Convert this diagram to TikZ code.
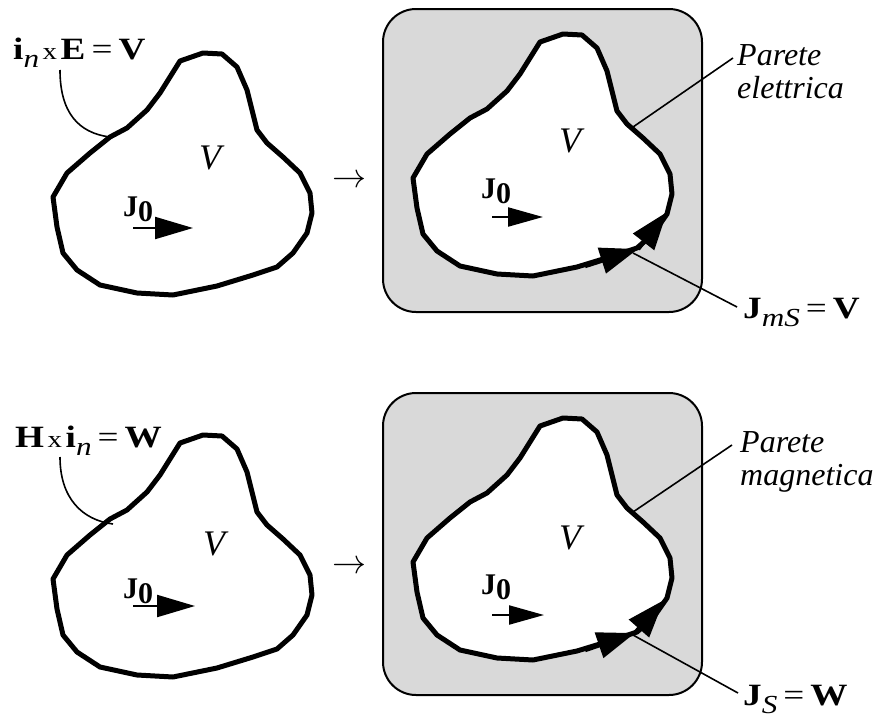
\documentclass[tikz,border=0pt]{standalone}
\usepackage{fontspec}
\setmainfont{Liberation Serif}
\usetikzlibrary{arrows.meta}

\newcommand{\subs}[1]{\raisebox{-8pt}{\fontsize{26}{26}\selectfont #1}}
\newcommand{\smallx}{\hspace{3pt}{\fontsize{24}{24}\selectfont x}\hspace{3pt}}
\newcommand{\eqsign}{\hspace{5pt}=\hspace{5pt}}
\newcommand{\wide}[1]{\scalebox{1.2}[1]{#1}}
\newcommand{\drawblob}[1]{\draw[blob,#1] (180,61) -- (203,53) -- (222,54) -- (237,67) -- (247,90) -- (257,130) -- (267,143) -- (283,157) -- (300,173) -- (310,193) -- (312,213) -- (307,233) -- (293,253) -- (277,267) -- (253,275) -- (217,286) -- (173,295) -- (137,293) -- (100,285) -- (77,270) -- (63,253) -- (57,227) -- (53,197) -- (67,173) -- (90,153) -- (110,137) -- (127,128) -- (147,110) -- (160,93) -- cycle;}

\begin{document}
\begin{tikzpicture}[x=1pt,y=-1pt]
	\tikzstyle{every node}=[inner sep=0pt]
	\tikzstyle{blob}=[line width=5pt,line join=round]
	\tikzstyle{wall}=[draw=black,line width=2pt,fill=gray!30,rounded corners=33pt]
	\tikzstyle{lbl}=[anchor=base west,font=\fontsize{31}{31}\selectfont]
	\tikzstyle{vol}=[font=\fontsize{36}{36}\selectfont\itshape]
	\tikzstyle{jzero}=[font=\fontsize{30}{30}\selectfont\bfseries]
	\tikzstyle{wallname}=[anchor=base west,align=left,font=\fontsize{32}{33}\selectfont\itshape]
	\tikzstyle{leader}=[line width=1.6pt]
	\tikzstyle{jarrow}=[line width=2.2pt,-{Triangle[length=38pt,width=22pt]}]
	\tikzstyle{sarrow}=[line width=4.5pt,-{Triangle[length=38pt,width=26pt]}]
	\useasboundingbox (0,0) rectangle (876,718);

	% top row: electric wall
	\drawblob{}
	\node[lbl] (eq1) at (13,59) {\wide{\textbf{i}\subs{\textit{n}}\smallx\textbf{E}\eqsign\textbf{V}}};
	\coordinate (c1) at (60,70);
	\coordinate (t1) at (110,137);
	\draw[line width=1.6pt] (c1) .. controls (60,112) and (78,133) .. (t1);
	\node[vol] (v1) at (210,158) {V};
	\node[jzero] (j1) at (138,209) {J\raisebox{-5pt}{0}};
	\coordinate (ja1) at (133,228);
	\coordinate (jb1) at (193,228);
	\draw[jarrow] (ja1) -- (jb1);

	\node (to1) at (349,181) {\scalebox{3.4}{$\rightarrow$}};

	\draw[wall] (383,9) rectangle (702,312);
	\drawblob{fill=white,shift={(360,-19)}}
	\node[vol] (v2) at (570,141) {V};
	\node[jzero] (j2) at (496,191) {J\raisebox{-5pt}{0}};
	\coordinate (ja2) at (492,217);
	\coordinate (jb2) at (543,217);
	\draw[jarrow,-{Triangle[length=35pt,width=19pt]}] (ja2) -- (jb2);
	\coordinate (s0) at (585,266);
	\coordinate (s1) at (638,249);
	\coordinate (s2) at (667,212);
	\draw[sarrow] (s0) -- (s1);
	\draw[sarrow] (s1) -- (s2);
	\node[wallname] (pw1) at (737,98) {Parete\\elettrica};
	\coordinate (pa1) at (733,58);
	\coordinate (pb1) at (633,127);
	\draw[leader] (pa1) -- (pb1);
	\node[lbl] (js1) at (743,318) {\wide{\textbf{J}\subs{\textit{mS}}\eqsign\textbf{V}}};
	\coordinate (la1) at (737,307);
	\coordinate (lb1) at (633,253);
	\draw[leader] (la1) -- (lb1);

	% bottom row: magnetic wall
	\drawblob{shift={(0,382)}}
	\node[lbl] (eq2) at (15,447) {\wide{\textbf{H}\smallx\textbf{i}\subs{\textit{n}}\eqsign\textbf{W}}};
	\coordinate (c2) at (60,457);
	\coordinate (t2) at (113,524);
	\draw[line width=1.6pt] (c2) .. controls (60,498) and (82,520) .. (t2);
	\node[vol] (v3) at (214,544) {V};
	\node[jzero] (j3) at (138,591) {J\raisebox{-5pt}{0}};
	\coordinate (ja3) at (133,606);
	\coordinate (jb3) at (195,606);
	\draw[jarrow] (ja3) -- (jb3);

	\node (to2) at (349,567) {\scalebox{3.4}{$\rightarrow$}};

	\draw[wall] (383,393) rectangle (702,695);
	\drawblob{fill=white,shift={(360,365)}}
	\node[vol] (v4) at (570,538) {V};
	\node[jzero] (j4) at (496,587) {J\raisebox{-5pt}{0}};
	\coordinate (ja4) at (492,615);
	\coordinate (jb4) at (544,615);
	\draw[jarrow,-{Triangle[length=35pt,width=19pt]}] (ja4) -- (jb4);
	\coordinate (s3) at (585,650);
	\coordinate (s4) at (635,633);
	\coordinate (s5) at (664,600);
	\draw[sarrow] (s3) -- (s4);
	\draw[sarrow] (s4) -- (s5);
	\node[wallname] (pw2) at (740,485) {Parete\\magnetica};
	\coordinate (pa2) at (732,445);
	\coordinate (pb2) at (633,512);
	\draw[leader] (pa2) -- (pb2);
	\node[lbl] (js2) at (743,705) {\wide{\textbf{J}\subs{\textit{S}}\eqsign\textbf{W}}};
	\coordinate (la2) at (738,693);
	\coordinate (lb2) at (633,635);
	\draw[leader] (la2) -- (lb2);
\end{tikzpicture}
\end{document}
